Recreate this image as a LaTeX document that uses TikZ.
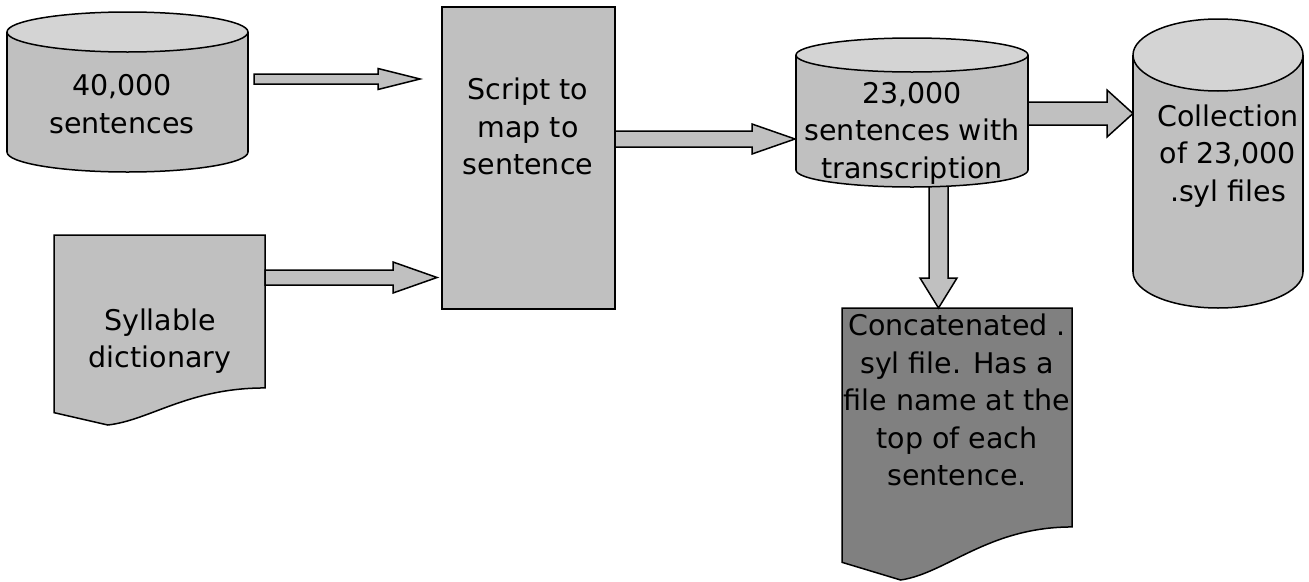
\documentclass[tikz,border=0pt]{standalone}
\usepackage{fontspec}
\setmainfont{DejaVu Sans}
\usetikzlibrary{calc}
\definecolor{boxgray}{HTML}{C0C0C0}
\definecolor{capgray}{HTML}{D4D4D4}
\definecolor{docdark}{HTML}{808080}
\newcommand{\dbcyl}[5]% center x, top y, bottom y, x radius, y radius
{\filldraw[fill=boxgray] (#1,#3) ellipse (#4 and #5);
\fill[boxgray] ({#1-#4},#2) rectangle ({#1+#4},#3);
\draw ({#1-#4},#2) -- ({#1-#4},#3) ({#1+#4},#2) -- ({#1+#4},#3);
\filldraw[fill=capgray] (#1,#2) ellipse (#4 and #5);
}
\newcommand{\docshape}[5]% left x, top y, right x, bottom y, fill
{\filldraw[fill=#5] (#1,#2) -- (#3,#2) -- (#3,{#4-0.195*(#4-#2)})
 .. controls ({#1+0.635*(#3-#1)},{#4-0.195*(#4-#2)}) and ({#1+0.455*(#3-#1)},{#4-0.025*(#4-#2)}) .. ({#1+0.255*(#3-#1)},#4)
 -- (#1,{#4-0.065*(#4-#2)}) -- cycle;
}
\newcommand{\harrow}[5]% start, tip, shaft half, head half, head length
{\filldraw[fill=boxgray] let \p1=(#1), \p2=(#2) in
 (\x1,\y2+#3pt) -- (\x2-#5pt,\y2+#3pt) -- (\x2-#5pt,\y2+#4pt) -- (\p2)
 -- (\x2-#5pt,\y2-#4pt) -- (\x2-#5pt,\y2-#3pt) -- (\x1,\y2-#3pt) -- cycle;
}
\newcommand{\varrow}[5]% start, tip, shaft half, head half, head length
{\filldraw[fill=boxgray] let \p1=(#1), \p2=(#2) in
 (\x2-#3pt,\y1) -- (\x2-#3pt,\y2+#5pt) -- (\x2-#4pt,\y2+#5pt) -- (\p2)
 -- (\x2+#4pt,\y2+#5pt) -- (\x2+#3pt,\y2+#5pt) -- (\x2+#3pt,\y1) -- cycle;
}

\begin{document}
\begin{tikzpicture}[x=1pt,y=-1pt,line width=1.5pt,
  txt/.style={align=center,inner sep=0pt,font=\fontsize{28.5}{37.5}\selectfont}]
\useasboundingbox (0,0) rectangle (1309,581);
% shapes
\dbcyl{127.5}{32}{152}{120.5}{20}
\filldraw[fill=boxgray] (442,7) rectangle (615,309);
\docshape{54}{235}{265}{425}{boxgray}
\docshape{842}{308}{1072}{580}{docdark}
% connector ends
\coordinate (srcout) at (254,79);
\coordinate (scriptin) at (420,79);
\coordinate (dictout) at (265,277.5);
\coordinate (scriptin2) at (437,277.5);
\coordinate (scriptout) at (615,139);
\coordinate (transin) at (795,139);
\coordinate (transout) at (1028,113.5);
\coordinate (collin) at (1133,113.5);
\coordinate (transdown) at (938.5,184);
\coordinate (concatin) at (938.5,308);
\harrow{srcout}{scriptin}{5}{10.5}{42}
\harrow{dictout}{scriptin2}{7.5}{15.5}{44}
\harrow{scriptout}{transin}{8}{15}{43}
\varrow{transdown}{concatin}{9.5}{18.5}{30}
\dbcyl{912}{55}{170}{116}{17}
\harrow{transout}{collin}{11.5}{23.5}{26}
\dbcyl{1218}{55}{272}{85}{36}
% texts
\node[txt] (src) at (122,104) {40,000\\sentences};
\node[txt] (script) at (528,126.5) {Script to\\map to\\sentence};
\node[txt] (dict) at (160,341) {Syllable\\dictionary};
\node[txt] (trans) at (912,133) {23,000\\sentences with\\transcription};
\node[txt] (coll) at (1228,156) {Collection\\of 23,000\\.syl files};
\node[txt] (concat) at (957,400) {Concatenated .\\syl file. Has a\\file name at the\\top of each\\sentence.};
\end{tikzpicture}
\end{document}
